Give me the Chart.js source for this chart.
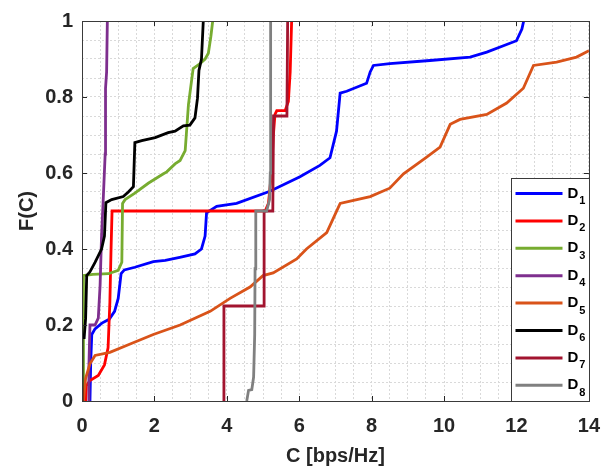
<!DOCTYPE html>
<html>
<head>
<meta charset="utf-8">
<script src="https://cdn.jsdelivr.net/npm/chart.js@4.4.1/dist/chart.umd.min.js"></script>
<style>
html, body { margin: 0; padding: 0; background: #fff; }
</style>
</head>
<body>
<canvas id="cdfChart" width="613" height="468"></canvas>
<script>
// CDF curves: C [bps/Hz] and F(C)
const d1C = [0.22, 0.24, 0.27, 0.36, 0.55, 0.75, 0.9, 1.0, 1.08, 1.17, 1.46, 1.97, 2.3, 2.7, 3.12, 3.3, 3.4, 3.44, 3.72, 4.27, 5.19, 6.02, 6.57, 6.85, 7.03, 7.13, 7.31, 7.86, 7.96, 8.05, 8.5, 9.61, 10.72, 11.18, 11.64, 12.0, 12.15, 12.2];
const d1F = [0, 0.1, 0.175, 0.19, 0.205, 0.215, 0.236, 0.27, 0.335, 0.345, 0.352, 0.367, 0.37, 0.378, 0.387, 0.4, 0.434, 0.495, 0.512, 0.52, 0.552, 0.59, 0.62, 0.64, 0.71, 0.81, 0.815, 0.836, 0.866, 0.883, 0.888, 0.896, 0.905, 0.918, 0.935, 0.948, 0.979, 1.0];

const d2C = [0.1, 0.12, 0.22, 0.45, 0.62, 0.72, 0.77, 0.8, 0.83, 5.06, 5.15, 5.24, 5.28, 5.33, 5.38, 5.61, 5.7, 5.75, 5.79];
const d2F = [0, 0.04, 0.054, 0.067, 0.095, 0.14, 0.26, 0.39, 0.5, 0.5, 0.52, 0.607, 0.693, 0.754, 0.764, 0.764, 0.788, 0.866, 1.0];

const d3C = [0.04, 0.04, 0.3, 0.73, 1.0, 1.1, 1.12, 1.19, 1.46, 1.83, 2.25, 2.34, 2.57, 2.71, 2.85, 2.94, 3.07, 3.26, 3.4, 3.49, 3.56, 3.61];
const d3F = [0, 0.33, 0.333, 0.335, 0.344, 0.365, 0.52, 0.53, 0.547, 0.573, 0.598, 0.603, 0.624, 0.633, 0.659, 0.78, 0.875, 0.888, 0.9, 0.915, 0.96, 1.0];

const d4C = [0.17, 0.19, 0.22, 0.36, 0.45, 0.5, 0.54, 0.59, 0.64, 0.65, 0.68, 0.7];
const d4F = [0, 0.089, 0.2, 0.2, 0.218, 0.305, 0.434, 0.538, 0.65, 0.823, 0.866, 1.0];

const d5C = [0.04, 0.1, 0.22, 0.36, 0.77, 1.33, 1.97, 2.71, 3.54, 4.09, 4.64, 5.0, 5.28, 5.93, 6.2, 6.76, 7.13, 7.5, 7.96, 8.5, 8.88, 9.52, 9.89, 10.17, 10.44, 11.18, 11.73, 12.19, 12.47, 13.11, 13.66, 14.0];
const d5F = [0, 0.06, 0.098, 0.12, 0.128, 0.15, 0.175, 0.2, 0.236, 0.27, 0.3, 0.33, 0.337, 0.374, 0.4, 0.443, 0.52, 0.528, 0.538, 0.56, 0.598, 0.642, 0.668, 0.728, 0.741, 0.754, 0.784, 0.823, 0.883, 0.892, 0.905, 0.922];

const d6C = [0, 0, 0.06, 0.1, 0.13, 0.22, 0.36, 0.54, 0.62, 0.66, 0.82, 1.14, 1.28, 1.42, 1.46, 1.65, 2.02, 2.38, 2.57, 2.8, 2.98, 3.12, 3.19, 3.23, 3.3, 3.35];
const d6F = [0, 0.167, 0.167, 0.218, 0.33, 0.34, 0.365, 0.4, 0.434, 0.522, 0.53, 0.538, 0.55, 0.564, 0.68, 0.685, 0.693, 0.706, 0.71, 0.724, 0.726, 0.745, 0.797, 0.87, 0.9, 1.0];

const d7C = [3.9, 3.92, 3.92, 5.03, 5.03, 5.27, 5.29, 5.66, 5.68];
const d7F = [0, 0.05, 0.25, 0.25, 0.5, 0.5, 0.75, 0.75, 1.0];

const d8C = [4.55, 4.6, 4.69, 4.74, 4.77, 4.78, 4.8, 5.1, 5.18, 5.2, 5.21];
const d8F = [0, 0.028, 0.03, 0.063, 0.175, 0.348, 0.5, 0.5, 0.53, 0.6, 1.0];

const seriesNames = ['D1', 'D2', 'D3', 'D4', 'D5', 'D6', 'D7', 'D8'];
const seriesC = [d1C, d2C, d3C, d4C, d5C, d6C, d7C, d8C];
const seriesF = [d1F, d2F, d3F, d4F, d5F, d6F, d7F, d8F];
const seriesColors = ['#0000ff', '#ff0000', '#77ac30', '#7e2f8e', '#d95319', '#000000', '#a2142f', '#808080'];

const xTickLabels = [0, 2, 4, 6, 8, 10, 12, 14];
const yTickLabels = [0, 0.2, 0.4, 0.6, 0.8, 1];

const axisColor = '#262626';
const gridColor = '#d9d9d9';

const datasets = seriesNames.map((name, i) => ({
    label: name,
    data: seriesC[i].map((c, k) => ({x: c, y: seriesF[i][k]})),
    borderColor: seriesColors[i],
    backgroundColor: seriesColors[i],
    borderWidth: 2.8,
    pointRadius: 0,
    fill: false,
    tension: 0,
    order: seriesNames.length - i   // last series on top, like matlab
}));

function isMajor(v, list) {
    return list.some(t => Math.abs(t - v) < 1e-6);
}

// box round the axes, inner tick marks and the legend with subscripts
const framePlugin = {
    id: 'frame',
    afterDraw(chart) {
        const ctx = chart.ctx;
        const a = chart.chartArea;
        const xs = chart.scales.x, ys = chart.scales.y;
        ctx.save();
        ctx.strokeStyle = axisColor;
        ctx.lineWidth = 1;
        ctx.beginPath();
        for (const v of xTickLabels) {
            const px = Math.round(xs.getPixelForValue(v)) + 0.5;
            ctx.moveTo(px, a.bottom); ctx.lineTo(px, a.bottom - 5);
            ctx.moveTo(px, a.top); ctx.lineTo(px, a.top + 5);
        }
        for (const v of yTickLabels) {
            const py = Math.round(ys.getPixelForValue(v)) + 0.5;
            ctx.moveTo(a.left, py); ctx.lineTo(a.left + 5, py);
            ctx.moveTo(a.right, py); ctx.lineTo(a.right - 5, py);
        }
        ctx.stroke();

        // legend
        const w = 78, h = 223, rowH = 27.4;
        const lx = Math.round(a.right - w) + 0.5, ly = Math.round(a.bottom - h) + 0.5;
        ctx.fillStyle = '#ffffff';
        ctx.fillRect(lx, ly, w, h);
        chart.data.datasets.forEach((ds, i) => {
            const y = ly + 15 + i * rowH;
            ctx.strokeStyle = ds.borderColor;
            ctx.lineWidth = 3;
            ctx.beginPath();
            ctx.moveTo(lx + 4, y); ctx.lineTo(lx + 51, y);
            ctx.stroke();
            ctx.fillStyle = '#000000';
            ctx.textBaseline = 'alphabetic';
            ctx.textAlign = 'left';
            ctx.font = 'bold 15px "Liberation Sans", Arial, sans-serif';
            const base = ds.label.charAt(0);
            ctx.fillText(base, lx + 56, y + 4);
            const bw = ctx.measureText(base).width;
            ctx.font = 'bold 11px "Liberation Sans", Arial, sans-serif';
            ctx.fillText(ds.label.slice(1), lx + 56 + bw + 1, y + 10.5);
        });
        ctx.strokeStyle = '#3a3a3a';
        ctx.lineWidth = 1;
        ctx.strokeRect(lx, ly, w, h);

        ctx.strokeStyle = '#3a3a3a';
        ctx.strokeRect(Math.round(a.left) + 0.5, Math.round(a.top) + 0.5,
                       Math.round(a.right - a.left), Math.round(a.bottom - a.top));
        ctx.restore();
    }
};

const tickFont = {family: '"Liberation Sans", Arial, sans-serif', size: 20, weight: 'bold'};
const titleFont = {family: '"Liberation Sans", Arial, sans-serif', size: 20, weight: 'bold'};

const config = {
    type: 'line',
    data: {datasets: datasets},
    options: {
        responsive: false,
        animation: false,
        devicePixelRatio: 1,
        layout: {padding: {top: 15, right: 24, left: 0, bottom: 0}},
        plugins: {
            legend: {display: false},
            tooltip: {enabled: false}
        },
        scales: {
            x: {
                type: 'linear',
                min: 0,
                max: 14,
                afterFit: s => { s.height = 67; },
                ticks: {
                    stepSize: 0.5,
                    autoSkip: false,
                    maxRotation: 0,
                    padding: 13,
                    color: axisColor,
                    font: tickFont,
                    callback: v => isMajor(v, xTickLabels) ? String(Math.round(v)) : ''
                },
                grid: {color: gridColor, lineWidth: 1, drawTicks: false},
                border: {display: false, dash: [2, 2]},
                title: {
                    display: true,
                    text: 'C [bps/Hz]',
                    color: axisColor,
                    font: titleFont,
                    padding: {top: 0, bottom: 0}
                }
            },
            y: {
                type: 'linear',
                min: 0,
                max: 1,
                afterFit: s => { s.width = 82; },
                ticks: {
                    stepSize: 0.05,
                    autoSkip: false,
                    padding: 9,
                    color: axisColor,
                    font: tickFont,
                    callback: v => isMajor(v, yTickLabels) ? String(Math.round(v * 10) / 10) : ''
                },
                grid: {color: gridColor, lineWidth: 1, drawTicks: false},
                border: {display: false, dash: [2, 2]},
                title: {
                    display: true,
                    text: 'F(C)',
                    color: axisColor,
                    font: titleFont,
                    padding: {top: 15, bottom: 0}
                }
            }
        }
    },
    plugins: [framePlugin]
};

const myChart = new Chart(document.getElementById('cdfChart'), config);
</script>
</body>
</html>
